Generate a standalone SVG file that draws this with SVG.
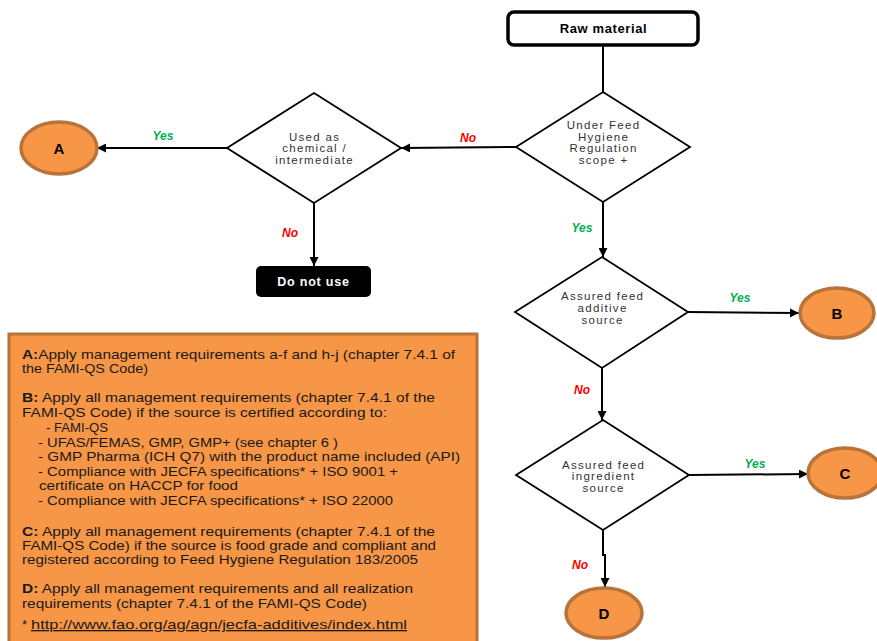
<svg xmlns="http://www.w3.org/2000/svg" width="877" height="641" viewBox="0 0 877 641">
<defs>
<marker id="arr" viewBox="0 0 10 10" refX="10" refY="5" markerWidth="9" markerHeight="9" markerUnits="userSpaceOnUse" orient="auto">
<path d="M0,0 L10,5 L0,10 z" fill="#000"/>
</marker>
</defs>
<style>
.dia{fill:#fff;stroke:#000;stroke-width:1.8}
.dt{font-family:"Liberation Sans",Arial,sans-serif;font-size:11.5px;letter-spacing:1.3px;fill:#333;text-anchor:middle}
.circ{fill:#F79646;stroke:#B8733A;stroke-width:3.5}
.ct{font-family:"Liberation Sans",Arial,sans-serif;font-size:15px;font-weight:bold;fill:#000;text-anchor:middle}
.yes{font-family:"Liberation Sans",Arial,sans-serif;font-size:12px;font-weight:bold;font-style:italic;fill:#00B050;text-anchor:middle}
.no{font-family:"Liberation Sans",Arial,sans-serif;font-size:12px;font-weight:bold;font-style:italic;fill:#FF0000;text-anchor:middle}
.ln{stroke:#000;stroke-width:2;fill:none}
.bt{font-family:"Liberation Sans",Arial,sans-serif;font-size:13px;fill:#1a1a1a}
.b{font-weight:bold}
</style>
<rect width="877" height="641" fill="#fff"/>
<g id="connectors">
<path class="ln" d="M603,45 L603,92"/>
<path class="ln" d="M516,147 L401,148" marker-end="url(#arr)"/>
<path class="ln" d="M227,148 L97,148" marker-end="url(#arr)"/>
<path class="ln" d="M314,203 L314,266" marker-end="url(#arr)"/>
<path class="ln" d="M603,202 L603,257" marker-end="url(#arr)"/>
<path class="ln" d="M688,312 L799,313" marker-end="url(#arr)"/>
<path class="ln" d="M602,368 L602,420" marker-end="url(#arr)"/>
<path class="ln" d="M689,475 L808,474" marker-end="url(#arr)"/>
<path class="ln" d="M603,530 L603,555 L605,555 L605,587" marker-end="url(#arr)"/>
<text class="no" x="468" y="142">No</text>
<text class="yes" x="163" y="140">Yes</text>
<text class="no" x="290" y="237">No</text>
<text class="yes" x="582" y="232">Yes</text>
<text class="yes" x="740" y="302">Yes</text>
<text class="no" x="582" y="394">No</text>
<text class="yes" x="755" y="468">Yes</text>
<text class="no" x="580" y="569">No</text>
</g>
<g id="raw">
<rect x="508" y="12" width="190" height="33" rx="6" fill="#fff" stroke="#000" stroke-width="3.5"/>
<text x="603.5" y="33" text-anchor="middle" font-family="Liberation Sans,Arial,sans-serif" font-size="13px" letter-spacing="0.6px" font-weight="bold">Raw material</text>
</g>
<g id="d1">
<polygon class="dia" points="603,92 690,147 603,202 516,147"/>
<text class="dt" x="603.6" y="129">Under Feed</text>
<text class="dt" x="603.6" y="141">Hygiene</text>
<text class="dt" x="603.6" y="152">Regulation</text>
<text class="dt" x="603.6" y="164">scope +</text>
</g>
<g id="d2">
<polygon class="dia" points="314,93 401,148 314,203 227,148"/>
<text class="dt" x="314.6" y="141">Used as</text>
<text class="dt" x="314.6" y="152">chemical /</text>
<text class="dt" x="314.6" y="164">intermediate</text>
</g>
<g id="A">
<ellipse class="circ" cx="59" cy="148" rx="38" ry="26"/>
<text class="ct" x="59" y="154">A</text>
</g>
<g id="donot">
<rect x="256" y="266" width="115" height="31" rx="5" fill="#000"/>
<text x="313.5" y="286" text-anchor="middle" font-family="Liberation Sans,Arial,sans-serif" font-size="12.5px" letter-spacing="0.8px" font-weight="bold" fill="#fff">Do not use</text>
</g>
<g id="d3">
<polygon class="dia" points="602,257 688,312 602,368 515,312"/>
<text class="dt" x="602.6" y="300">Assured feed</text>
<text class="dt" x="602.6" y="312">additive</text>
<text class="dt" x="602.6" y="324">source</text>
</g>
<g id="B">
<ellipse class="circ" cx="837" cy="313" rx="37" ry="25"/>
<text class="ct" x="837" y="319">B</text>
</g>
<g id="d4">
<polygon class="dia" points="603,420 689,475 603,530 516,475"/>
<text class="dt" x="603.6" y="469">Assured feed</text>
<text class="dt" x="603.6" y="480">ingredient</text>
<text class="dt" x="603.6" y="492">source</text>
</g>
<g id="C">
<ellipse class="circ" cx="845" cy="473" rx="37" ry="25"/>
<text class="ct" x="845" y="479">C</text>
</g>
<g id="D">
<ellipse class="circ" cx="604" cy="613" rx="38" ry="25"/>
<text class="ct" x="604" y="619">D</text>
</g>
<g id="legend">
<rect x="9" y="334" width="468" height="312" fill="#F79646" stroke="#B8733A" stroke-width="3"/>
<text class="bt" x="22" y="359" textLength="433" lengthAdjust="spacingAndGlyphs"><tspan class="b">A:</tspan>Apply management requirements a-f and h-j (chapter 7.4.1 of</text>
<text class="bt" x="22" y="373" textLength="126" lengthAdjust="spacingAndGlyphs">the FAMI-QS Code)</text>
<text class="bt" x="22" y="402" textLength="413" lengthAdjust="spacingAndGlyphs"><tspan class="b">B:</tspan> Apply all management requirements (chapter 7.4.1 of the</text>
<text class="bt" x="22" y="417" textLength="365" lengthAdjust="spacingAndGlyphs">FAMI-QS Code) if the source is certified according to:</text>
<text class="bt" x="46" y="432" textLength="62" lengthAdjust="spacingAndGlyphs">- FAMI-QS</text>
<text class="bt" x="38" y="447" textLength="300" lengthAdjust="spacingAndGlyphs">- UFAS/FEMAS, GMP, GMP+ (see chapter 6 )</text>
<text class="bt" x="38" y="461" textLength="422" lengthAdjust="spacingAndGlyphs">- GMP Pharma (ICH Q7) with the product name included (API)</text>
<text class="bt" x="38" y="476" textLength="360" lengthAdjust="spacingAndGlyphs">- Compliance with JECFA specifications* + ISO 9001 +</text>
<text class="bt" x="39" y="490" textLength="199" lengthAdjust="spacingAndGlyphs">certificate on HACCP for food</text>
<text class="bt" x="38" y="505" textLength="355" lengthAdjust="spacingAndGlyphs">- Compliance with JECFA specifications* + ISO 22000</text>
<text class="bt" x="22" y="536" textLength="413" lengthAdjust="spacingAndGlyphs"><tspan class="b">C:</tspan> Apply all management requirements (chapter 7.4.1 of the</text>
<text class="bt" x="22" y="550" textLength="414" lengthAdjust="spacingAndGlyphs">FAMI-QS Code) if the source is food grade and compliant and</text>
<text class="bt" x="22" y="564" textLength="396" lengthAdjust="spacingAndGlyphs">registered according to Feed Hygiene Regulation 183/2005</text>
<text class="bt" x="22" y="593" textLength="391" lengthAdjust="spacingAndGlyphs"><tspan class="b">D:</tspan> Apply all management requirements and all realization</text>
<text class="bt" x="22" y="608" textLength="345" lengthAdjust="spacingAndGlyphs">requirements (chapter 7.4.1 of the FAMI-QS Code)</text>
<text class="bt" x="22" y="629">*</text>
<text class="bt" x="31" y="629" textLength="376" lengthAdjust="spacingAndGlyphs" fill="#0000FF" text-decoration="underline">http://www.fao.org/ag/agn/jecfa-additives/index.html</text>
</g>
</svg>
